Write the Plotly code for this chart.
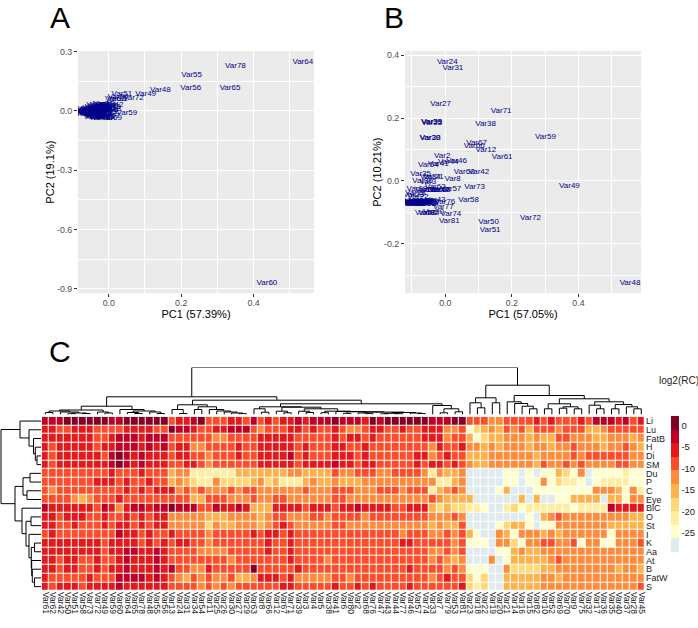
import plotly.graph_objects as go

W, H = 698, 628

# PCA panel A
a_names = ["Var64", "Var78", "Var55", "Var56", "Var65", "Var60", "Var48", "Var49", "Var51", "Var72", "Var61", "Var50", "Var59", "Var62",
           "Var42", "Var58", "Var73", "Var13", "Var24", "Var31", "Var34", "Var54", "Var11", "Var25", "Var26", "Var30", "Var27", "Var29",
           "Var63", "Var8", "Var66", "Var12", "Var67", "Var71", "Var39", "Var3", "Var4", "Var5", "Var38", "Var41", "Var6", "Var80",
           "Var2", "Var68", "Var76", "Var47", "Var43", "Var44", "Var77", "Var46", "Var57", "Var74", "Var33", "Var7", "Var79", "Var53",
           "Var81", "Var23", "Var18", "Var22", "Var19", "Var20", "Var21", "Var14", "Var16", "Var15", "Var82", "Var10", "Var52", "Var69",
           "Var70", "Var9", "Var75", "Var32", "Var17", "Var36", "Var35", "Var40", "Var37", "Var28", "Var45"]
a_x = [0.536, 0.35, 0.229, 0.2265, 0.335, 0.437, 0.1426, 0.102, 0.036, 0.068, 0.024, 0.026, 0.05, 0.018,
       0.012, 0.006, 0.004, -0.012, -0.008, -0.016, -0.024, -0.019, -0.031, -0.028, -0.036, -0.041, -0.033, -0.044,
       -0.006, -0.014, -0.002, -0.021, 0.002, -0.01, -0.037, -0.047, -0.052, -0.043, -0.018, -0.026, -0.055, -0.048,
       -0.03, -0.022, -0.012, -0.039, -0.045, -0.05, -0.034, -0.025, -0.016, -0.008, -0.029, -0.058, -0.04, -0.02,
       -0.005, -0.076, -0.081, -0.072, -0.084, -0.079, -0.068, -0.064, -0.061, -0.066, -0.056, -0.053, -0.046, 0.008,
       -0.003, -0.035, -0.027, -0.049, -0.042, -0.059, -0.015, -0.011, -0.023, -0.032, -0.038]
a_y = [0.247, 0.225, 0.18, 0.115, 0.117, -0.87, 0.107, 0.085, 0.0835, 0.063, 0.0623, 0.07, -0.0126, 0.058,
       0.03, 0.012, 0.021, 0.034, 0.028, 0.035, 0.031, 0.022, 0.018, 0.026, 0.015, 0.01, 0.029, 0.013,
       -0.004, -0.012, 0.006, -0.02, -0.026, -0.033, -0.028, -0.03, -0.018, -0.024, -0.036, -0.037, 0.005, 0.008,
       -0.008, 0.004, 0.014, -0.015, -0.006, 0.001, -0.022, -0.029, -0.011, 0.002, 0.017, -0.009, 0.007, 0.02,
       -0.017, -0.003, 0.0, -0.011, -0.005, 0.004, 0.008, -0.014, 0.006, -0.007, -0.002, -0.013, 0.011, -0.038,
       0.024, -0.033, 0.012, 0.003, -0.019, 0.0, -0.03, 0.009, -0.005, 0.0, 0.019]

# PCA panel B
b_names = ["Var24", "Var31", "Var27", "Var71", "Var38", "Var59", "Var67", "Var66", "Var12", "Var61", "Var2", "Var46", "Var44", "Var41",
           "Var54", "Var60", "Var42", "Var8", "Var35", "Var49", "Var73", "Var57", "Var58", "Var76", "Var77", "Var74", "Var72", "Var81",
           "Var50", "Var51", "Var48", "Var39", "Var33", "Var25", "Var28", "Var30", "Var43", "Var53", "Var82", "Var80", "Var68", "Var62",
           "Var63", "Var47", "Var29", "Var26", "Var36", "Var34", "Var21", "Var3", "Var19", "Var18", "Var23", "Var22", "Var4", "Var5",
           "Var6", "Var7", "Var9", "Var10", "Var11", "Var13", "Var14", "Var15", "Var16", "Var17", "Var20", "Var32", "Var37", "Var40",
           "Var45", "Var52", "Var55", "Var56", "Var64", "Var65", "Var69", "Var70", "Var75", "Var78", "Var79"]
b_x = [0.006, 0.023, -0.014, 0.168, 0.121, 0.301, 0.094, 0.087, 0.122, 0.171, -0.009, 0.034, 0.009, -0.021,
       -0.051, 0.057, 0.101, 0.022, -0.074, 0.373, 0.088, 0.017, 0.07, -0.001, -0.006, 0.017, 0.256, 0.012,
       0.13, 0.135, 0.555, -0.041, -0.041, -0.04, -0.045, -0.046, -0.03, -0.06, -0.05, -0.035, -0.015, -0.03,
       -0.025, -0.018, -0.05, -0.06, -0.068, -0.045, -0.036, -0.052, -0.085, -0.09, -0.095, -0.082, -0.112, -0.108,
       -0.104, -0.101, -0.098, -0.095, -0.092, -0.089, -0.086, -0.083, -0.08, -0.077, -0.074, -0.071, -0.068, -0.065,
       -0.062, -0.059, -0.056, -0.053, -0.11, -0.1, -0.09, -0.078, -0.066, -0.058, -0.05]
b_y = [0.379, 0.36, 0.245, 0.223, 0.181, 0.139, 0.121, 0.111, 0.1, 0.0755, 0.081, 0.062, 0.06, 0.053,
       0.051, 0.029, 0.03, 0.005, 0.023, -0.015, -0.02, -0.027, -0.062, -0.067, -0.084, -0.105, -0.117, -0.127,
       -0.13, -0.157, -0.324, 0.187, 0.187, 0.186, 0.138, 0.137, -0.06, -0.102, -0.103, -0.1, -0.028, -0.02,
       -0.03, -0.03, -0.028, -0.03, 0.0, 0.012, 0.012, -0.002, -0.027, -0.04, -0.045, -0.05, -0.066, -0.07,
       -0.067, -0.072, -0.065, -0.07, -0.068, -0.072, -0.066, -0.07, -0.065, -0.072, -0.068, -0.066, -0.071, -0.065,
       -0.069, -0.072, -0.067, -0.07, -0.068, -0.072, -0.066, -0.07, -0.065, -0.072, -0.068]

a_xticks, a_xticktext = [0.0, 0.2, 0.4], ["0.0", "0.2", "0.4"]
a_yticks, a_yticktext = [0.3, 0.0, -0.3, -0.6, -0.9], ["0.3", "0.0", "-0.3", "-0.6", "-0.9"]
b_xticks, b_xticktext = [0.0, 0.2, 0.4], ["0.0", "0.2", "0.4"]
b_yticks, b_yticktext = [0.4, 0.2, 0.0, -0.2], ["0.4", "0.2", "0.0", "-0.2"]

# heatmap, one list per row, values are the colour bins (0 darkest .. 9 pale blue)
row_names = ["Li", "Lu", "FatB", "H", "Di", "SM", "Du", "P", "C", "Eye", "BlC", "O", "St", "I", "K", "Aa", "At", "B", "FatW", "S"]
col_names = ["Var61", "Var62", "Var42", "Var50", "Var51", "Var58", "Var73", "Var72", "Var49", "Var59", "Var60", "Var64", "Var65", "Var78",
             "Var48", "Var55", "Var56", "Var13", "Var24", "Var31", "Var34", "Var54", "Var11", "Var25", "Var26", "Var30", "Var27", "Var29",
             "Var63", "Var8", "Var66", "Var12", "Var67", "Var71", "Var39", "Var3", "Var4", "Var5", "Var38", "Var41", "Var6", "Var80",
             "Var2", "Var68", "Var76", "Var47", "Var43", "Var44", "Var77", "Var46", "Var57", "Var74", "Var33", "Var7", "Var79", "Var53",
             "Var81", "Var23", "Var18", "Var22", "Var19", "Var20", "Var21", "Var14", "Var16", "Var15", "Var82", "Var10", "Var52", "Var69",
             "Var70", "Var9", "Var75", "Var32", "Var17", "Var36", "Var35", "Var40", "Var37", "Var28", "Var45"]
Li = [1,1,1,0,0,0,0,0,0,1,1,0,0,0,0,0,0,3,2,2, 1,0,3,3,3,2,2,3,1,3,2,3,2,2,1,2,1,1,1,0, 1,1,1,2,0,1,0,0,0,0,0,0,1,1,1,0,0,3,3,3,4, 4,3,3,3,3,2,3,2,3,3,3,2,3,1,1,1,2,1,3,2]
Lu = [2,2,3,3,2,2,2,3,3,3,3,2,2,2,2,3,3,0,1,1, 2,3,3,2,2,1,1,1,3,4,3,3,3,2,2,3,2,3,3,2, 3,4,4,3,2,2,3,3,2,3,3,2,2,2,4,4,3,8,6,5,4, 5,3,4,3,5,3,3,3,4,3,3,3,5,5,4,3,3,3,3,3]
FatB = [2,2,2,2,2,2,2,3,3,2,1,1,1,2,1,1,1,3,3,3, 3,3,3,4,4,3,3,3,3,2,2,2,2,2,3,3,3,3,3,2, 3,2,2,3,2,3,3,3,3,3,3,2,2,2,4,3,3,5,8,6,5, 5,4,4,4,5,4,5,5,3,3,4,4,4,5,5,4,4,4,5,4]
H_row = [2,3,2,2,2,2,2,3,2,2,1,1,1,2,1,2,1,3,2,2, 4,4,3,3,3,3,2,3,3,2,2,2,2,2,3,2,3,3,3,2, 2,3,3,2,3,3,3,3,3,3,3,3,4,2,3,3,2,4,4,5,4, 5,4,4,4,5,4,4,5,4,4,3,4,4,4,5,4,4,3,4,5]
Di = [2,3,2,2,2,2,2,2,3,1,0,1,2,1,2,2,2,3,2,2, 3,3,4,3,3,3,2,3,3,2,2,2,2,1,3,2,3,3,3,2, 2,2,3,2,3,3,3,3,3,3,2,2,4,3,2,3,3,5,5,5,4, 4,4,4,4,4,5,4,4,4,4,3,4,3,3,3,3,3,3,4,4]
SM = [2,3,2,2,2,2,2,2,2,1,0,1,2,1,2,2,2,3,3,2, 2,3,4,3,3,3,3,3,3,2,2,2,2,2,3,2,2,2,2,1, 2,2,3,2,2,3,3,3,3,3,2,3,2,2,3,2,3,4,5,5,4, 4,4,4,4,4,5,3,4,4,3,4,3,4,4,4,4,3,3,4,4]
Du = [3,3,3,3,3,3,3,3,3,2,3,3,3,2,3,3,3,5,4,4, 7,7,7,7,7,7,5,5,5,5,5,5,5,4,4,5,5,5,5,3, 4,4,3,3,3,4,4,3,3,3,3,4,7,4,5,5,4,9,9,9,9, 9,8,8,9,8,9,8,8,5,6,8,4,9,8,8,8,8,7,8,8]
P = [3,3,3,3,3,3,3,2,2,2,3,2,3,3,2,3,3,5,4,5, 6,7,7,4,6,6,6,6,5,4,6,5,7,7,7,5,4,5,5,4, 5,5,5,4,4,4,4,4,4,4,4,4,4,7,7,5,4,9,9,9,9, 9,8,8,9,8,8,4,8,6,7,7,8,9,8,7,7,7,7,8,8]
C = [3,4,3,3,3,3,3,3,3,3,3,2,3,2,3,2,2,2,4,3, 4,3,4,4,4,3,4,3,3,4,4,4,4,4,4,3,4,4,4,3, 3,3,4,4,4,3,3,3,4,3,3,3,7,5,4,3,4,9,9,9,9, 8,5,9,9,9,8,8,8,8,8,8,8,8,4,4,4,5,8,4,7]
Eye = [3,3,3,3,4,5,4,3,3,3,2,3,3,3,3,3,3,3,3,3, 5,5,3,3,3,4,4,4,3,4,4,3,3,4,4,4,4,4,4,3, 3,4,4,4,4,4,4,4,4,4,4,4,3,4,5,5,5,5,9,9,9, 9,9,9,5,9,5,9,9,8,8,5,5,5,5,9,5,5,8,4,4]
BlC = [1,2,2,2,2,2,2,3,1,2,4,2,1,1,2,1,1,0,1,1, 1,3,3,1,2,2,1,2,5,5,5,2,2,2,2,3,2,2,2,3, 2,2,1,2,2,2,2,3,3,2,2,2,5,6,5,6,6,7,7,8,9, 9,7,6,8,7,7,7,7,7,7,8,7,7,7,7,1,2,2,2,2]
O = [2,2,3,2,2,2,3,3,2,3,3,2,3,2,3,2,2,4,4,4, 4,4,5,5,5,4,4,4,4,5,4,3,3,4,4,4,3,3,4,3, 3,3,3,4,3,3,3,3,3,3,3,3,4,4,4,3,4,9,9,9,9, 9,9,9,9,8,9,5,4,3,4,4,4,4,4,4,4,4,4,5,5]
St = [2,2,3,3,2,3,3,3,2,3,2,2,3,2,3,2,2,4,4,4, 4,4,6,4,5,5,4,4,4,5,4,3,2,3,4,4,4,4,4,3, 3,4,4,4,4,4,4,4,4,4,4,4,5,4,5,5,3,9,9,9,9, 8,6,5,5,8,9,8,8,4,4,4,4,4,4,4,5,5,5,5,5]
I_row = [3,2,3,3,3,3,3,3,3,3,1,2,2,3,2,3,3,2,3,3, 3,3,4,3,3,3,3,3,2,3,2,2,3,2,3,3,3,3,3,3, 3,3,3,3,3,3,3,3,4,3,3,3,4,4,3,4,3,5,8,9,9, 4,5,8,4,4,4,5,4,5,4,4,4,4,4,4,8,4,4,4,4]
K = [2,2,2,2,2,2,2,2,3,2,2,2,2,3,2,3,2,3,2,2, 3,3,4,3,3,3,3,3,3,3,2,3,3,2,3,3,3,3,3,3, 3,3,3,3,3,3,3,3,2,2,3,3,3,3,3,4,3,8,8,8,9, 4,4,6,8,4,4,3,3,4,4,3,8,4,4,8,8,4,4,4,3]
Aa = [2,2,2,2,2,2,2,2,3,2,2,1,1,2,2,1,2,3,3,3, 3,4,4,4,4,3,3,3,3,3,2,3,3,2,3,3,3,3,3,3, 3,3,3,3,3,3,3,3,3,3,3,3,4,4,3,4,3,9,9,9,9, 8,8,5,4,5,5,4,4,4,4,4,4,4,4,4,4,4,4,4,4]
At = [2,2,3,2,2,3,3,2,3,3,2,1,2,2,2,1,2,3,3,3, 3,3,3,3,3,4,3,3,3,3,3,3,3,2,3,3,3,3,4,3, 3,3,3,3,3,3,3,3,3,3,3,3,4,3,4,5,4,9,9,9,4, 9,8,5,5,5,5,5,4,3,4,4,4,4,4,4,4,4,4,4,4]
B = [2,2,3,2,2,3,3,2,3,2,2,1,2,2,2,1,2,1,3,3, 4,4,2,3,3,3,3,3,0,3,3,3,3,3,2,3,3,3,3,3, 3,3,3,3,3,3,3,3,3,2,3,3,3,3,4,3,4,8,8,8,9, 9,4,6,6,6,6,5,5,4,4,4,4,4,4,4,4,5,4,4,5]
FatW = [2,3,3,3,3,3,2,3,3,3,1,1,1,1,2,1,2,3,4,5, 3,4,3,4,4,3,5,5,4,2,2,2,3,2,4,4,4,4,4,3, 3,4,3,3,3,3,3,3,3,3,3,3,4,3,2,3,3,6,8,6,9, 9,5,5,5,5,5,4,4,5,4,4,4,4,4,4,4,4,4,4,4]
S = [2,3,2,2,2,3,2,2,2,2,1,2,2,2,2,2,2,3,3,3, 3,4,3,4,3,4,3,3,3,3,3,3,2,2,3,3,3,3,3,2, 3,3,2,3,2,3,3,3,3,2,3,3,3,3,3,3,2,6,7,6,9, 9,5,5,5,5,5,4,4,4,4,4,4,4,4,4,4,4,4,4,3]
bins = [Li, Lu, FatB, H_row, Di, SM, Du, P, C, Eye, BlC, O, St, I_row, K, Aa, At, B, FatW, S]
for r in bins:
    assert len(r) == 81, len(r)

# log2(RC) in the middle of each legend band
band_values = [0.62, -2.54, -5.7, -8.86, -12.0, -15.2, -18.3, -21.5, -24.7, -27.8]
band_colors = ["#800026", "#BD0026", "#E31A1C", "#FC4E2A", "#FD8D3C", "#FEB24C", "#FED976", "#FFEDA0", "#FFFFCC", "#DFEBEC"]
z_min, z_max = -29.4, 2.2
bar_ticks, bar_ticktext = [0, -5, -10, -15, -20, -25], ["0", "-5", "-10", "-15", "-20", "-25"]

# dendrograms: (merge height, left, right), L is a leaf
L = None
left_big = (17.7,
            (8.3,
             (4.5,
              (3.5, (2, L, L), (2.5, L, (1.5, (0.8, L, L), (1, L, L)))),
              (2.5, L, (1.5, L, L))),
             (5, L, (3.5, (2, L, (1, L, L)), (2.5, L, (1, L, L))))),
            (14.3,
             (9.7,
              (5, L, (1, L, L)),
              (7.7, (5, L, L), (5, L, (3.5, L, (2.5, L, (1.5, L, (0.8, L, L))))))),
             (10.7,
              (7.7,
               (5.7, L, (2.3, L, L)),
               (7.3,
                (3.3, L, (1.7, L, L)),
                (5.7,
                 (3.3, L, (2, L, L)),
                 (3.3, (1.8, L, L),
                  (3, L, (2.7, (1.2, L, L),
                          (2.4, (1.5, L, (0.8, L, L)),
                           (2, (1.2, (0.6, L, L), (0.7, L, L)), (1.5, L, (0.9, L, L))))))))),
              ),
              (9, L, (5.7, (1.7, L, L), (2.7, L, L))))))
right_big = (29.3,
             (16.7, (11.7, L, (6.7, L, L)), (11.7, L, L)),
             (19,
              (12.7, L, (11, L, (8.3, L, (5.7, L, L)))),
              (15.7,
               (10.7, (5.7, L, L), (7.7, (6.3, L, L), (5.7, L, L))),
               (12.7,
                (9.3, L, (5.7, L, L)),
                (10, (5.7, L, L), (7.7, L, (5.7, L, L)))))))
col_tree = (47, left_big, right_big)
row_tree = (40,
            (21, L, (12, L, (7.5, L, (5.7, L, (4, L, L))))),
            (26,
             (18, (11, L, L), (14, L, L)),
             (19, L,
              (15, (10, L, L),
               (12, L,
                (9.7, (6.5, L, L),
                 (9.3, L, (8.7, L, (6.5, L, L)))))))))


def tree_lines(node, seen, pos, height):
    # walks the merge tree, leaves get 0, 1, 2 ... from left to right
    if node is None:
        seen[0] += 1
        return seen[0] - 1, 0
    h, a, b = node
    pa, ha = tree_lines(a, seen, pos, height)
    pb, hb = tree_lines(b, seen, pos, height)
    pos += [pa, pa, pb, pb, None]
    height += [ha, h, h, hb, None]
    return (pa + pb) / 2, h


col_pos, col_h = [], []
row_pos, row_h = [], []
col_count, row_count = [0], [0]
tree_lines(col_tree, col_count, col_pos, col_h)
tree_lines(row_tree, row_count, row_pos, row_h)
assert col_count[0] == 81, col_count
assert row_count[0] == 20, row_count


def px_x(a, b):
    return [a / W, b / W]


def px_y(top, bottom):
    return [1 - bottom / H, 1 - top / H]


label_font = dict(family="Liberation Sans", size=8, color="#00008B")
tick_font = dict(family="Liberation Sans", size=8.8, color="#4D4D4D")
title_font = dict(family="Liberation Sans", size=11, color="black")
panel_bg = "#EBEBEB"

fig = go.Figure()
fig.add_trace(go.Scatter(x=a_x, y=a_y, text=a_names, mode="text", textfont=label_font, xaxis="x", yaxis="y", hoverinfo="text"))
fig.add_trace(go.Scatter(x=b_x, y=b_y, text=b_names, mode="text", textfont=label_font, xaxis="x2", yaxis="y2", hoverinfo="text"))

scale = []
for i, c in enumerate(band_colors[::-1]):
    scale += [[i / 10, c], [(i + 1) / 10, c]]
z = [[band_values[v] for v in r] for r in bins]
fig.add_trace(go.Heatmap(z=z, x=list(range(81)), y=list(range(20)), colorscale=scale, zmin=z_min, zmax=z_max,
                         xgap=1, ygap=1, xaxis="x3", yaxis="y3",
                         colorbar=dict(x=671 / W, xanchor="left", y=1 - 416 / H, yanchor="top", thickness=8,
                                       lenmode="pixels", len=136, xpad=0, ypad=0, outlinewidth=0,
                                       tickmode="array", tickvals=bar_ticks, ticktext=bar_ticktext, ticks="",
                                       tickfont=dict(family="Liberation Sans", size=9.5, color="#222222"))))
dend_line = dict(color="black", width=1)
fig.add_trace(go.Scatter(x=col_pos, y=col_h, mode="lines", line=dend_line, xaxis="x4", yaxis="y4", hoverinfo="skip"))
fig.add_trace(go.Scatter(x=row_h, y=row_pos, mode="lines", line=dend_line, xaxis="x5", yaxis="y5", hoverinfo="skip"))


def pca_x(domain, rng, ticks, text, title, anchor):
    return dict(domain=domain, range=rng, anchor=anchor, tickmode="array", tickvals=ticks, ticktext=text, tickfont=tick_font,
                ticks="outside", ticklen=3, tickcolor="#333333", tickwidth=1, showgrid=True, gridcolor="white", gridwidth=1,
                zeroline=False, showline=False, automargin=False, ticklabelstandoff=-2,
                minor=dict(dtick=0.1, tick0=0, showgrid=True, gridcolor="white", gridwidth=0.8, ticks=""),
                title=dict(text=title, font=title_font, standoff=0))


def pca_y(domain, rng, ticks, text, title, anchor, minor_step):
    return dict(domain=domain, range=rng, anchor=anchor, tickmode="array", tickvals=ticks, ticktext=text, tickfont=tick_font,
                ticks="outside", ticklen=3, tickcolor="#333333", tickwidth=1, showgrid=True, gridcolor="white", gridwidth=1,
                zeroline=False, showline=False, automargin=False,
                minor=dict(dtick=minor_step, tick0=0, showgrid=True, gridcolor="white", gridwidth=0.8, ticks=""),
                title=dict(text=title, font=title_font, standoff=0))


def panel_rect(xref, yref):
    return dict(type="rect", xref=xref + " domain", yref=yref + " domain", x0=0, x1=1, y0=0, y1=1,
                fillcolor=panel_bg, line_width=0, layer="below")


hidden = dict(visible=False, showgrid=False, zeroline=False)
fig.update_layout(
    width=W, height=H, autosize=False, margin=dict(l=0, r=0, t=0, b=0, pad=0),
    paper_bgcolor="white", plot_bgcolor="rgba(0,0,0,0)", showlegend=False,
    shapes=[panel_rect("x", "y"), panel_rect("x2", "y2")],
    xaxis=pca_x(px_x(78, 314), [-0.085, 0.567], a_xticks, a_xticktext, "PC1 (57.39%)", "y"),
    yaxis=pca_y(px_y(51, 293.3), [-0.923, 0.303], a_yticks, a_yticktext, "PC2 (19.1%)", "x", 0.15),
    xaxis2=pca_x(px_x(405, 641), [-0.121, 0.588], b_xticks, b_xticktext, "PC1 (57.05%)", "y2"),
    yaxis2=pca_y(px_y(51, 293.3), [-0.358, 0.414], b_yticks, b_yticktext, "PC2 (10.21%)", "x2", 0.1),
    xaxis3=dict(domain=px_x(41.7, 645), range=[-0.5, 80.5], anchor="y3", tickmode="array", tickvals=list(range(81)), ticktext=col_names,
                tickangle=90, tickfont=dict(family="Liberation Sans", size=8.5, color="#222222"), ticks="", showgrid=False, zeroline=False, automargin=False),
    yaxis3=dict(domain=px_y(416.7, 591), range=[19.5, -0.5], anchor="x3", side="right", tickmode="array", tickvals=list(range(20)), ticktext=row_names,
                tickfont=dict(family="Liberation Sans", size=9, color="#222222"), ticks="", showgrid=False, zeroline=False, automargin=False),
    xaxis4=dict(domain=px_x(41.7, 645), range=[-0.5, 80.5], anchor="y4", **hidden),
    yaxis4=dict(domain=px_y(367.5, 414.5), range=[0, 47], anchor="x4", **hidden),
    xaxis5=dict(domain=px_x(0, 41), range=[41, 0], anchor="y5", **hidden),
    yaxis5=dict(domain=px_y(416.7, 591), range=[19.5, -0.5], anchor="x5", **hidden),
    annotations=[
        dict(text="A", x=48 / W, y=1 - 17 / H, xref="paper", yref="paper", xanchor="left", yanchor="middle", showarrow=False,
             font=dict(family="Liberation Sans", size=30, color="black")),
        dict(text="B", x=382 / W, y=1 - 17 / H, xref="paper", yref="paper", xanchor="left", yanchor="middle", showarrow=False,
             font=dict(family="Liberation Sans", size=30, color="black")),
        dict(text="C", x=47 / W, y=1 - 351 / H, xref="paper", yref="paper", xanchor="left", yanchor="middle", showarrow=False,
             font=dict(family="Liberation Sans", size=30, color="black")),
        dict(text="log2(RC)", x=657 / W, y=1 - 380 / H, xref="paper", yref="paper", xanchor="left", yanchor="middle", showarrow=False,
             font=dict(family="Liberation Sans", size=10, color="#222222")),
    ],
)

fig.write_html("out.html", config=dict(displayModeBar=False), post_script="document.body.style.margin='0';document.body.style.overflow='hidden';")
